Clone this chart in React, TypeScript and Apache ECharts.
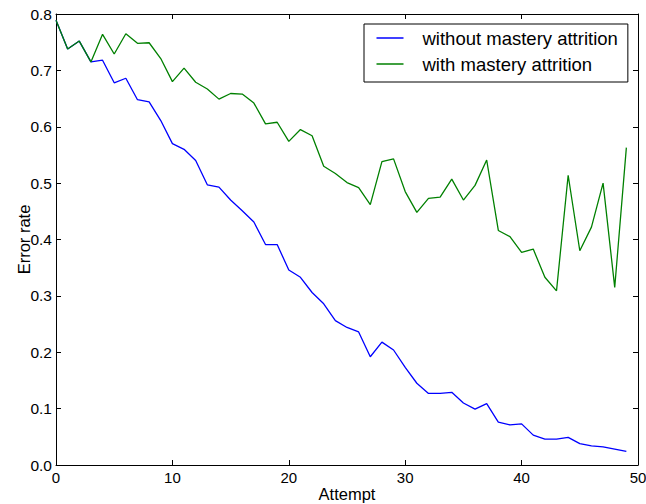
import React, { useEffect, useRef } from "react";
import * as echarts from "echarts";

const attempts: number[] = Array.from({ length: 50 }, (_, i) => i);

const withoutAttrition: number[] = [
  0.789, 0.738, 0.752, 0.715, 0.718, 0.678, 0.686, 0.648, 0.644, 0.611,
  0.570, 0.560, 0.540, 0.497, 0.493, 0.470, 0.451, 0.431, 0.391, 0.391,
  0.346, 0.333, 0.306, 0.286, 0.256, 0.244, 0.236, 0.192, 0.218, 0.204,
  0.173, 0.145, 0.127, 0.127, 0.129, 0.110, 0.099, 0.109, 0.076, 0.071,
  0.073, 0.053, 0.046, 0.046, 0.049, 0.038, 0.034, 0.032, 0.028, 0.024,
];

const withAttrition: number[] = [
  0.789, 0.738, 0.752, 0.715, 0.764, 0.729, 0.765, 0.748, 0.749, 0.721,
  0.680, 0.704, 0.679, 0.667, 0.649, 0.659, 0.658, 0.642, 0.605, 0.608,
  0.574, 0.595, 0.584, 0.530, 0.517, 0.501, 0.492, 0.462, 0.538, 0.543,
  0.485, 0.448, 0.473, 0.475, 0.507, 0.470, 0.496, 0.541, 0.416, 0.405,
  0.377, 0.383, 0.333, 0.309, 0.514, 0.380, 0.422, 0.500, 0.315, 0.563,
];

const seriesNames: string[] = ["without mastery attrition", "with mastery attrition"];

const FONT = "'Liberation Sans', Arial, Helvetica, sans-serif";

export default function App() {
  const ref = useRef<HTMLDivElement>(null);
  useEffect(() => {
    if (!ref.current) return;
    const chart = echarts.init(ref.current, null, { renderer: "svg" });
    const axisLine = { show: true, onZero: false, lineStyle: { color: "#000", width: 1 } };
    const tick = { show: true, inside: true, length: 5, lineStyle: { color: "#000" } };
    chart.setOption({
      animation: false,
      backgroundColor: "#fff",
      textStyle: { fontFamily: FONT },
      grid: { left: 56, right: 8, top: 14, bottom: 39, containLabel: false, outerBoundsMode: "none" },
      legend: {
        orient: "vertical",
        left: 364,
        top: 24,
        padding: [4, 10, 8, 12.5],
        itemGap: 6,
        itemWidth: 27,
        itemHeight: 1.5,
        icon: "rect",
        borderColor: "#000",
        borderWidth: 1,
        borderRadius: 0,
        backgroundColor: "#fff",
        textStyle: { fontSize: 18.5, color: "#000", fontFamily: FONT, padding: [0, 0, 0, 14], lineHeight: 20 },
        data: seriesNames,
      },
      xAxis: [
        {
          type: "value",
          min: 0,
          max: 50,
          interval: 10,
          name: "Attempt",
          nameLocation: "middle",
          nameGap: 20,
          nameMoveOverlap: false,
          nameTextStyle: { fontSize: 16.5, color: "#000", fontFamily: FONT },
          axisLine,
          axisTick: tick,
          axisLabel: { fontSize: 15, color: "#000", margin: 5, fontFamily: FONT },
          splitLine: { show: false },
        },
        {
          type: "value",
          position: "top",
          min: 0,
          max: 50,
          interval: 10,
          axisLine,
          axisTick: tick,
          axisLabel: { show: false },
          splitLine: { show: false },
        },
      ],
      yAxis: [
        {
          type: "value",
          min: 0,
          max: 0.8,
          interval: 0.1,
          name: "Error rate",
          nameLocation: "middle",
          nameGap: 24,
          nameMoveOverlap: false,
          nameTextStyle: { fontSize: 16.5, color: "#000", fontFamily: FONT },
          axisLine,
          axisTick: tick,
          axisLabel: {
            fontSize: 15.5,
            color: "#000",
            margin: 4,
            fontFamily: FONT,
            formatter: (v: number) => v.toFixed(1),
          },
          splitLine: { show: false },
        },
        {
          type: "value",
          position: "right",
          min: 0,
          max: 0.8,
          interval: 0.1,
          axisLine,
          axisTick: tick,
          axisLabel: { show: false },
          splitLine: { show: false },
        },
      ],
      series: [
        {
          name: seriesNames[0],
          type: "line",
          data: attempts.map((a, i) => [a, withoutAttrition[i]]),
          showSymbol: false,
          symbol: "none",
          lineStyle: { color: "#0000ff", width: 1.3 },
          itemStyle: { color: "#0000ff" },
        },
        {
          name: seriesNames[1],
          type: "line",
          data: attempts.map((a, i) => [a, withAttrition[i]]),
          showSymbol: false,
          symbol: "none",
          lineStyle: { color: "#008000", width: 1.3 },
          itemStyle: { color: "#008000" },
        },
      ],
    });
    return () => chart.dispose();
  }, []);
  return <div ref={ref} style={{ width: 646, height: 504, position: "absolute", left: 0, top: 0 }} />;
}
